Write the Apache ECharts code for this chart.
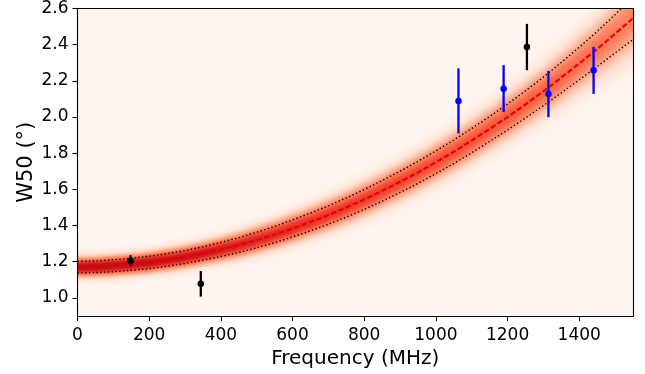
<!DOCTYPE html>
<html><head><meta charset="utf-8">
<script src="https://cdn.jsdelivr.net/npm/echarts@6/dist/echarts.min.js"></script>
<style>html,body{margin:0;padding:0;background:#fff}#c{width:645px;height:374px}</style>
</head><body><div id="c"></div>
<script>
// ---- data ----
const freqGrid = [0,50,100,150,200,250,300,350,400,450,500,550,600,650,700,750,800,850,900,950,1000,1050,1100,1150,1200,1250,1300,1350,1400,1450,1500,1550];
const modelW50 = [1.170,1.172,1.178,1.186,1.196,1.210,1.226,1.246,1.268,1.292,1.320,1.350,1.384,1.420,1.458,1.500,1.544,1.592,1.642,1.694,1.750,1.808,1.870,1.934,2.000,2.070,2.142,2.218,2.296,2.376,2.460,2.546];
const modelSigma = [0.032,0.032,0.033,0.033,0.034,0.035,0.036,0.037,0.039,0.041,0.043,0.045,0.047,0.049,0.051,0.053,0.055,0.057,0.059,0.061,0.063,0.065,0.067,0.069,0.072,0.075,0.079,0.084,0.090,0.097,0.106,0.118];
const blackFreq = [148, 344, 1254];
const blackW50 = [1.206, 1.078, 2.387];
const blackErr = [0.03, 0.071, 0.128];
const blueFreq = [1063, 1189, 1314, 1440];
const blueW50 = [2.089, 2.157, 2.127, 2.258];
const blueErr = [0.18, 0.13, 0.128, 0.13];

// ---- colour map (matplotlib Reds) ----
const REDS = ['#fff5f0','#fee0d2','#fcbba1','#fc9272','#fb6a4a','#ef3b2c','#cb181d','#a50f15','#67000d'];
const REDS_RGB = REDS.map(h => [parseInt(h.slice(1,3),16), parseInt(h.slice(3,5),16), parseInt(h.slice(5,7),16)]);
function reds(v){
  v = Math.max(0, Math.min(1, v));
  const p = v * 8, i = Math.min(7, Math.floor(p)), f = p - i;
  const a = REDS_RGB[i], b = REDS_RGB[i+1];
  return 'rgb(' + [0,1,2].map(k => Math.round(a[k] + (b[k]-a[k]) * f)).join(',') + ')';
}
function density(t, s){ return 0.82 * Math.exp(-t*t/2.4) * Math.pow(modelSigma[0]/s, 0.5); }

const levels = [];
for (let k = 20; k >= 1; k--) levels.push(k * 0.2);
const bandData = [];
levels.forEach(T => {
  for (let i = 0; i < freqGrid.length - 1; i++) {
    bandData.push([freqGrid[i], freqGrid[i+1], modelW50[i], modelW50[i+1], modelSigma[i], modelSigma[i+1], T]);
  }
});

function renderBand(params, api){
  const f0 = api.value(0), f1 = api.value(1), c0 = api.value(2), c1 = api.value(3);
  const s0 = api.value(4), s1 = api.value(5), T = api.value(6);
  const pts = [api.coord([f0, c0 + T*s0]), api.coord([f1, c1 + T*s1]), api.coord([f1, c1 - T*s1]), api.coord([f0, c0 - T*s0])];
  const tc = T - 0.1;
  const g = new echarts.graphic.LinearGradient(0, 0, 1, 0, [
    {offset: 0, color: reds(density(tc, s0))}, {offset: 1, color: reds(density(tc, s1))}]);
  return {type: 'polygon', shape: {points: pts}, style: {fill: g, stroke: g, lineWidth: 0.8}};
}
function errRenderer(color){
  return function(params, api){
    const x = api.value(0), y = api.value(1), e = api.value(2);
    const p1 = api.coord([x, y - e]), p2 = api.coord([x, y + e]);
    return {type: 'line', shape: {x1: p1[0], y1: p1[1], x2: p2[0], y2: p2[1]}, style: {stroke: color, lineWidth: 2.3}};
  };
}

const FONT = 'DejaVu Sans';
const chart = echarts.init(document.getElementById('c'), null, {renderer: 'canvas'});
chart.setOption({
  animation: false,
  grid: {left: 77.5, right: 12, top: 8, bottom: 56, show: true, backgroundColor: '#fff5f0', borderWidth: 0},
  xAxis: [{
    type: 'value', min: 0, max: 1550, interval: 200, z: 10,
    name: 'Frequency (MHz)', nameLocation: 'middle', nameGap: 33, nameMoveOverlap: false,
    nameTextStyle: {fontFamily: FONT, fontSize: 20, color: '#000'},
    axisLine: {show: true, onZero: false, lineStyle: {color: '#000', width: 1.1}},
    axisTick: {show: true, length: 5, lineStyle: {color: '#000', width: 1.1}},
    axisLabel: {fontFamily: FONT, fontSize: 17, color: '#000', margin: 11, showMaxLabel: false,
      formatter: v => String(v)},
    splitLine: {show: false}
  }, {
    type: 'value', min: 0, max: 1550, position: 'top', z: 10,
    axisLine: {show: true, onZero: false, lineStyle: {color: '#000', width: 1.1}},
    axisTick: {show: false}, axisLabel: {show: false}, splitLine: {show: false}
  }],
  yAxis: [{
    type: 'value', min: 0.9, max: 2.6, splitNumber: 8, minInterval: 0.2, maxInterval: 0.2, z: 10,
    name: 'W50 (°)', nameLocation: 'middle', nameGap: 40, nameMoveOverlap: false,
    nameTextStyle: {fontFamily: FONT, fontSize: 21, color: '#000'},
    axisLine: {show: true, onZero: false, lineStyle: {color: '#000', width: 1.1}},
    axisTick: {show: true, length: 5, lineStyle: {color: '#000', width: 1.1}},
    axisLabel: {fontFamily: FONT, fontSize: 17, color: '#000', margin: 9, showMinLabel: false,
      formatter: v => v.toFixed(1)},
    splitLine: {show: false}
  }, {
    type: 'value', min: 0.9, max: 2.6, position: 'right', z: 10,
    axisLine: {show: true, onZero: false, lineStyle: {color: '#000', width: 1.1}},
    axisTick: {show: false}, axisLabel: {show: false}, splitLine: {show: false}
  }],
  series: [
    {type: 'custom', name: 'band', data: bandData, renderItem: renderBand, clip: true, z: 1,
      encode: {x: [0, 1], y: [2, 3]}, progressive: 0, silent: true},
    {type: 'line', name: 'upper', data: freqGrid.map((f, i) => [f, modelW50[i] + modelSigma[i]]), symbol: 'none', z: 3,
      lineStyle: {color: '#000', width: 1.4, type: [1.4, 2.4]}},
    {type: 'line', name: 'lower', data: freqGrid.map((f, i) => [f, modelW50[i] - modelSigma[i]]), symbol: 'none', z: 3,
      lineStyle: {color: '#000', width: 1.4, type: [1.4, 2.4]}},
    {type: 'line', name: 'model', data: freqGrid.map((f, i) => [f, modelW50[i]]), symbol: 'none', z: 4,
      lineStyle: {color: '#e80000', width: 2.1, type: [5.5, 2.4]}},
    {type: 'custom', name: 'blackErr', data: blackFreq.map((f, i) => [f, blackW50[i], blackErr[i]]),
      renderItem: errRenderer('#000'), z: 5, encode: {x: 0, y: 1}},
    {type: 'scatter', name: 'black', data: blackFreq.map((f, i) => [f, blackW50[i]]), symbolSize: 6.5, z: 6,
      itemStyle: {color: '#000', opacity: 1}},
    {type: 'custom', name: 'blueErr', data: blueFreq.map((f, i) => [f, blueW50[i], blueErr[i]]),
      renderItem: errRenderer('#0000ff'), z: 5, encode: {x: 0, y: 1}},
    {type: 'scatter', name: 'blue', data: blueFreq.map((f, i) => [f, blueW50[i]]), symbolSize: 6.5, z: 6,
      itemStyle: {color: '#0000ff', opacity: 1}}
  ]
});
</script></body></html>
